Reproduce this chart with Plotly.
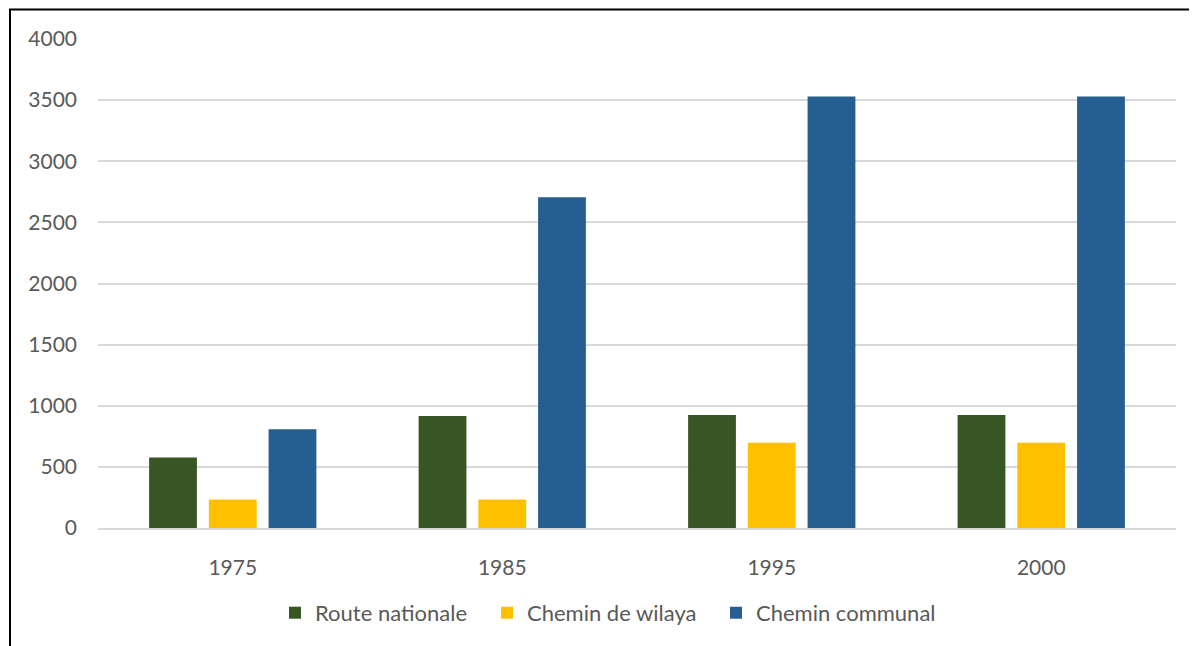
import plotly.graph_objects as go

years = ["1975", "1985", "1995", "2000"]
route_nationale = [576, 917, 925, 925]
chemin_wilaya = [233, 233, 697, 697]
chemin_communal = [808, 2705, 3530, 3530]

series = [
    ("Route nationale", route_nationale, "#375623"),
    ("Chemin de wilaya", chemin_wilaya, "#FFC000"),
    ("Chemin communal", chemin_communal, "#255E91"),
]
legend_ids = ["legend", "legend2", "legend3"]

OFF = 8  # page body margin
PW, PH = 1197, 646
W, H = PW - OFF, PH - OFF
# page pixel positions of plot area
L, R, T, B = 98, 1176, 38.5, 528
l, r, t, b = L - OFF, W - (R - OFF), T - OFF, H - (B - OFF)

def px(xp):
    return (xp - L) / (R - L)

def py(yp):
    return (B - yp) / (B - T)

fig = go.Figure()
for (name, vals, col), lid in zip(series, legend_ids):
    fig.add_trace(go.Bar(x=years, y=vals, name=name, legend=lid,
                         marker=dict(color=col, line=dict(width=0))))

legend_x = [275, 487, 716]
leg_common = dict(orientation="h", xanchor="left", y=py(613), yanchor="middle",
                  font=dict(size=22, color="#595959"), itemwidth=30,
                  bgcolor="rgba(0,0,0,0)")

fig.update_layout(
    width=W, height=H,
    margin=dict(l=l, r=r, t=t, b=b, pad=0),
    paper_bgcolor="white", plot_bgcolor="white",
    barmode="group", bargap=0.335, bargroupgap=0.2,
    font=dict(family="Lato, Open Sans, sans-serif", size=21, color="#595959"),
    showlegend=True,
    legend=dict(x=px(legend_x[0]), **leg_common),
    legend2=dict(x=px(legend_x[1]), **leg_common),
    legend3=dict(x=px(legend_x[2]), **leg_common),
    shapes=[dict(type="rect", xref="paper", yref="paper",
                 x0=px(10), x1=1.2,
                 y0=-0.5, y1=py(9),
                 line=dict(color="black", width=2), fillcolor="rgba(0,0,0,0)", layer="above")],
)
fig.update_yaxes(range=[0, 4000], dtick=500, showgrid=True, gridcolor="#D9D9D9", gridwidth=1.5,
                 zeroline=False, showline=False, ticks="", ticklabelstandoff=20,
                 tickfont=dict(size=21, color="#595959"), fixedrange=True)
fig.update_xaxes(showline=True, linecolor="#D9D9D9", linewidth=1.5, ticks="", ticklabelstandoff=20,
                 tickfont=dict(size=21, color="#595959"), fixedrange=True)

fig.write_html("out.html")
